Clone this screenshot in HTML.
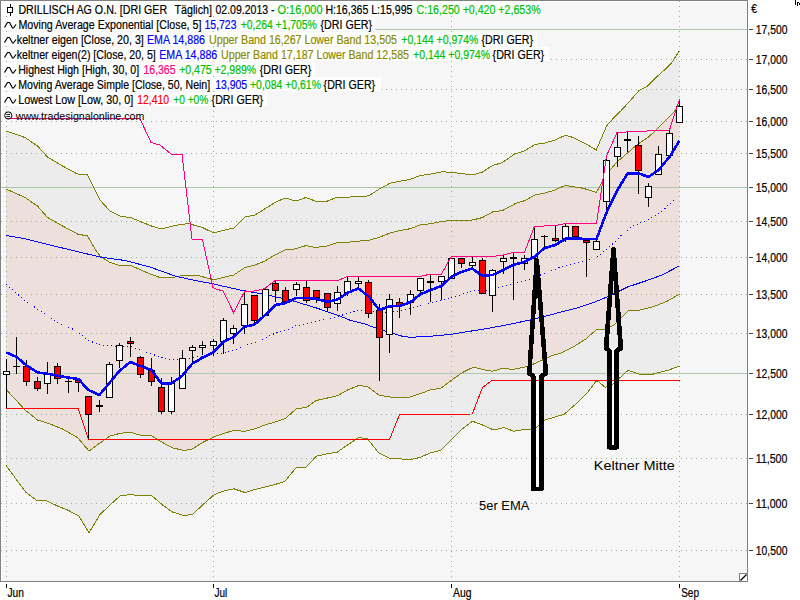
<!DOCTYPE html><html><head><meta charset="utf-8"><style>html,body{margin:0;padding:0;background:#fff;overflow:hidden}svg{display:block}text{font-family:"Liberation Sans",sans-serif;stroke-width:0.2px}</style></head><body>
<svg width="800" height="600" viewBox="0 0 800 600">
<rect x="0" y="0" width="800" height="600" fill="#ffffff"/>
<rect x="1" y="1" width="746" height="580" fill="#f6f6f6"/>
<path d="M1.5 1V581M1 1.5H747" stroke="#ffffff" stroke-width="1" fill="none" shape-rendering="crispEdges"/>
<polygon points="6.00,131.00 25.00,137.50 37.50,146.00 47.50,157.00 62.50,166.00 77.50,174.00 87.50,175.00 100.00,200.00 110.00,211.00 120.00,216.00 132.00,218.00 150.00,225.50 161.00,229.00 175.00,225.50 188.00,223.50 202.50,227.50 213.75,233.00 222.50,230.50 233.75,228.00 245.00,217.00 255.00,215.00 265.00,208.75 275.00,202.50 285.00,198.00 296.00,201.00 306.00,197.50 315.00,201.00 327.50,201.00 337.50,197.00 350.00,197.00 362.50,196.75 369.00,195.75 380.00,188.50 390.00,183.25 400.00,181.25 410.00,179.50 420.00,175.50 430.00,174.25 442.50,171.75 452.50,172.50 462.50,173.75 472.50,175.00 482.50,172.00 492.50,165.50 502.50,162.50 515.00,153.75 523.75,151.25 535.00,144.50 545.00,143.00 555.00,140.00 565.30,135.30 573.30,137.50 583.30,142.50 596.30,150.00 606.70,125.80 613.30,118.30 621.25,110.50 630.00,100.90 638.75,90.90 647.50,86.00 656.25,77.25 665.00,69.50 672.00,62.30 679.50,50.65 679.50,366.10 667.60,370.40 653.50,374.00 639.30,374.00 628.00,370.40 612.40,384.60 605.30,387.40 596.80,380.30 588.30,391.60 577.00,403.00 564.20,414.30 555.00,417.00 545.00,420.00 535.00,428.75 523.75,429.50 513.75,431.25 503.75,427.50 493.75,430.00 482.50,425.00 472.50,421.25 462.50,428.75 456.70,434.20 446.70,444.20 440.80,450.30 430.00,453.00 420.00,457.50 411.70,459.20 405.00,459.20 389.20,458.30 378.30,452.50 367.50,438.75 358.75,437.50 347.50,445.00 337.50,452.00 327.50,453.75 316.25,456.25 306.25,467.00 296.25,467.50 285.00,481.25 275.00,484.50 265.00,487.00 255.00,489.50 245.00,492.50 233.75,488.75 222.50,491.25 213.75,495.00 202.50,505.00 192.50,514.50 184.00,515.50 172.50,512.00 162.50,505.00 151.00,495.00 141.00,496.00 130.00,494.50 120.00,496.00 110.00,505.00 100.00,514.50 89.00,533.00 79.00,516.00 67.50,510.00 57.50,506.00 46.00,500.50 37.50,501.00 26.00,492.50 16.00,479.00 6.00,465.50" fill="#ececec"/>
<polygon points="6.00,189.00 25.00,197.50 37.50,206.00 47.50,217.50 62.50,226.00 77.50,234.00 87.50,236.00 95.00,249.00 100.00,256.00 110.00,262.50 120.00,265.50 132.00,266.00 150.00,274.00 160.00,277.50 170.00,278.00 180.00,276.00 190.00,275.50 200.00,276.00 213.75,280.00 222.50,277.50 233.75,275.00 245.00,267.50 255.00,265.00 265.00,261.00 275.00,255.00 285.00,250.00 296.00,248.75 306.00,245.50 315.00,247.50 327.50,246.00 337.50,242.50 350.00,242.00 370.00,240.00 380.00,237.00 390.00,233.00 400.00,230.50 410.00,228.75 420.00,225.00 430.00,223.75 442.50,221.25 452.50,220.50 462.50,220.50 472.50,220.00 482.50,217.50 492.50,212.00 502.50,210.50 515.00,203.75 525.00,200.50 535.00,195.00 545.00,193.00 555.00,190.00 565.30,185.30 573.30,186.70 583.30,188.30 596.30,192.50 606.70,174.00 617.00,162.00 627.50,153.00 638.00,144.00 648.75,136.90 658.00,128.00 666.75,119.25 673.75,112.25 679.50,105.00 679.50,294.00 667.60,301.00 653.50,306.70 639.30,310.30 628.00,311.00 613.80,325.00 605.30,329.90 596.80,329.30 585.50,339.20 574.20,346.30 560.00,353.40 552.50,355.50 542.50,360.00 532.50,364.50 525.00,367.00 512.50,369.50 502.50,368.25 492.50,371.25 482.50,369.50 473.75,367.00 462.50,372.50 452.50,379.50 441.25,388.00 430.00,390.00 420.00,393.75 410.00,397.00 390.00,397.00 378.75,395.00 367.50,386.50 358.75,385.50 347.50,390.00 337.50,395.75 327.50,398.00 316.25,400.50 306.25,407.50 296.25,408.75 285.00,418.75 275.00,422.00 265.00,425.00 255.00,428.75 245.00,431.25 233.75,430.50 222.50,433.75 213.75,437.00 202.50,442.50 192.50,449.00 184.00,450.50 173.00,448.00 162.50,442.50 151.00,435.50 140.00,435.00 129.00,432.00 117.50,434.00 110.00,436.00 100.00,443.00 89.00,451.00 77.50,437.50 62.50,429.00 50.00,424.00 37.50,420.00 25.00,410.00 16.00,400.00 6.00,389.50" fill="#ecdfdc"/>
<rect x="533.3" y="373.7" width="8.300000000000068" height="115.30000000000001" fill="#ffffff"/>
<rect x="609.35" y="348.4" width="7.2999999999999545" height="98.90000000000003" fill="#ffffff"/>
<path d="M1 59.5H747 M1 89.5H747 M1 121.5H747 M1 153.5H747 M1 221.5H747 M1 257.5H747 M1 294.5H747 M1 333.5H747 M1 414.5H747 M1 458.5H747 M1 503.5H747 M1 550.5H747" stroke="#9ab196" stroke-width="1" stroke-dasharray="1 4" fill="none" shape-rendering="crispEdges"/>
<path d="M6.5 1V581 M213.5 1V581 M451.5 1V581 M679.5 1V581" stroke="#9ab196" stroke-width="1" stroke-dasharray="1 4" fill="none" shape-rendering="crispEdges"/>
<path d="M1 187.5H747 M1 373.5H747 M1 29.5H747" stroke="#aec6ad" stroke-width="1" fill="none" shape-rendering="crispEdges"/>
<polyline points="6.00,131.00 25.00,137.50 37.50,146.00 47.50,157.00 62.50,166.00 77.50,174.00 87.50,175.00 100.00,200.00 110.00,211.00 120.00,216.00 132.00,218.00 150.00,225.50 161.00,229.00 175.00,225.50 188.00,223.50 202.50,227.50 213.75,233.00 222.50,230.50 233.75,228.00 245.00,217.00 255.00,215.00 265.00,208.75 275.00,202.50 285.00,198.00 296.00,201.00 306.00,197.50 315.00,201.00 327.50,201.00 337.50,197.00 350.00,197.00 362.50,196.75 369.00,195.75 380.00,188.50 390.00,183.25 400.00,181.25 410.00,179.50 420.00,175.50 430.00,174.25 442.50,171.75 452.50,172.50 462.50,173.75 472.50,175.00 482.50,172.00 492.50,165.50 502.50,162.50 515.00,153.75 523.75,151.25 535.00,144.50 545.00,143.00 555.00,140.00 565.30,135.30 573.30,137.50 583.30,142.50 596.30,150.00 606.70,125.80 613.30,118.30 621.25,110.50 630.00,100.90 638.75,90.90 647.50,86.00 656.25,77.25 665.00,69.50 672.00,62.30 679.50,50.65" fill="none" stroke="#808000" stroke-width="1" shape-rendering="crispEdges"/>
<polyline points="6.00,189.00 25.00,197.50 37.50,206.00 47.50,217.50 62.50,226.00 77.50,234.00 87.50,236.00 95.00,249.00 100.00,256.00 110.00,262.50 120.00,265.50 132.00,266.00 150.00,274.00 160.00,277.50 170.00,278.00 180.00,276.00 190.00,275.50 200.00,276.00 213.75,280.00 222.50,277.50 233.75,275.00 245.00,267.50 255.00,265.00 265.00,261.00 275.00,255.00 285.00,250.00 296.00,248.75 306.00,245.50 315.00,247.50 327.50,246.00 337.50,242.50 350.00,242.00 370.00,240.00 380.00,237.00 390.00,233.00 400.00,230.50 410.00,228.75 420.00,225.00 430.00,223.75 442.50,221.25 452.50,220.50 462.50,220.50 472.50,220.00 482.50,217.50 492.50,212.00 502.50,210.50 515.00,203.75 525.00,200.50 535.00,195.00 545.00,193.00 555.00,190.00 565.30,185.30 573.30,186.70 583.30,188.30 596.30,192.50 606.70,174.00 617.00,162.00 627.50,153.00 638.00,144.00 648.75,136.90 658.00,128.00 666.75,119.25 673.75,112.25 679.50,105.00" fill="none" stroke="#808000" stroke-width="1" shape-rendering="crispEdges"/>
<polyline points="6.00,389.50 16.00,400.00 25.00,410.00 37.50,420.00 50.00,424.00 62.50,429.00 77.50,437.50 89.00,451.00 100.00,443.00 110.00,436.00 117.50,434.00 129.00,432.00 140.00,435.00 151.00,435.50 162.50,442.50 173.00,448.00 184.00,450.50 192.50,449.00 202.50,442.50 213.75,437.00 222.50,433.75 233.75,430.50 245.00,431.25 255.00,428.75 265.00,425.00 275.00,422.00 285.00,418.75 296.25,408.75 306.25,407.50 316.25,400.50 327.50,398.00 337.50,395.75 347.50,390.00 358.75,385.50 367.50,386.50 378.75,395.00 390.00,397.00 410.00,397.00 420.00,393.75 430.00,390.00 441.25,388.00 452.50,379.50 462.50,372.50 473.75,367.00 482.50,369.50 492.50,371.25 502.50,368.25 512.50,369.50 525.00,367.00 532.50,364.50 542.50,360.00 552.50,355.50 560.00,353.40 574.20,346.30 585.50,339.20 596.80,329.30 605.30,329.90 613.80,325.00 628.00,311.00 639.30,310.30 653.50,306.70 667.60,301.00 679.50,294.00" fill="none" stroke="#808000" stroke-width="1" shape-rendering="crispEdges"/>
<polyline points="6.00,465.50 16.00,479.00 26.00,492.50 37.50,501.00 46.00,500.50 57.50,506.00 67.50,510.00 79.00,516.00 89.00,533.00 100.00,514.50 110.00,505.00 120.00,496.00 130.00,494.50 141.00,496.00 151.00,495.00 162.50,505.00 172.50,512.00 184.00,515.50 192.50,514.50 202.50,505.00 213.75,495.00 222.50,491.25 233.75,488.75 245.00,492.50 255.00,489.50 265.00,487.00 275.00,484.50 285.00,481.25 296.25,467.50 306.25,467.00 316.25,456.25 327.50,453.75 337.50,452.00 347.50,445.00 358.75,437.50 367.50,438.75 378.30,452.50 389.20,458.30 405.00,459.20 411.70,459.20 420.00,457.50 430.00,453.00 440.80,450.30 446.70,444.20 456.70,434.20 462.50,428.75 472.50,421.25 482.50,425.00 493.75,430.00 503.75,427.50 513.75,431.25 523.75,429.50 535.00,428.75 545.00,420.00 555.00,417.00 564.20,414.30 577.00,403.00 588.30,391.60 596.80,380.30 605.30,387.40 612.40,384.60 628.00,370.40 639.30,374.00 653.50,374.00 667.60,370.40 679.50,366.10" fill="none" stroke="#808000" stroke-width="1" shape-rendering="crispEdges"/>
<polyline points="6.00,235.50 25.00,238.75 50.00,245.00 75.00,251.00 100.00,257.00 125.00,260.50 150.00,267.00 175.00,276.00 190.00,279.50 212.50,283.75 240.00,290.00 265.00,294.50 290.00,300.00 315.00,307.50 340.00,316.00 350.00,320.25 365.00,324.00 377.00,328.50 389.00,332.25 402.50,336.30 410.00,337.30 430.00,336.25 450.00,334.50 470.00,331.25 490.00,328.00 510.00,324.25 530.00,320.00 550.00,315.00 560.00,312.30 577.00,308.00 594.00,302.40 611.00,295.30 628.00,286.80 645.00,281.20 662.00,275.00 679.00,266.10" fill="none" stroke="#0000ff" stroke-width="1" shape-rendering="crispEdges"/>
<polyline points="6.00,284.50 16.00,292.50 25.00,301.00 37.50,309.00 50.00,317.50 62.50,325.00 75.00,330.00 87.50,340.00 100.00,345.00 112.00,346.00 132.00,347.00 146.00,352.00 160.00,357.00 170.00,360.00 180.00,359.50 189.40,358.50 197.50,356.90 210.00,355.00 221.25,353.10 230.00,351.25 237.00,349.40 247.50,344.40 255.00,342.50 262.50,339.75 269.40,335.60 277.50,332.40 288.50,329.30 295.50,325.80 303.00,324.40 311.00,322.50 319.40,320.25 327.00,319.00 335.60,316.90 342.50,315.00 350.00,312.50 357.50,310.60 362.00,310.00 373.75,311.25 385.60,312.25 397.00,311.40 405.00,309.75 413.75,307.50 423.75,305.25 432.50,302.75 441.25,300.60 450.00,298.50 458.75,295.60 467.50,292.25 475.00,290.20 486.25,290.30 497.50,288.10 509.40,284.40 517.50,282.50 524.40,281.25 532.50,278.75 543.75,273.50 554.40,269.50 562.50,266.50 569.40,264.50 577.50,262.50 585.50,260.40 593.75,259.30 602.00,253.00 608.90,247.60 617.10,239.30 625.40,231.50 632.30,226.25 639.10,223.50 646.70,220.50 653.60,216.60 660.50,212.50 668.00,205.60 679.00,196.00" fill="none" stroke="#0000ff" stroke-width="1" stroke-dasharray="1 3" shape-rendering="crispEdges"/>
<polyline points="6.00,408.25 78.00,408.25 88.40,439.00 389.70,439.00 399.60,414.50 472.30,414.00 482.50,387.50 492.50,380.00 679.50,380.00" fill="none" stroke="#ff0000" stroke-width="1" shape-rendering="crispEdges"/>
<path d="M6.5 359V408 M16.5 337V374 M26.5 360V386 M37.5 377V391 M47.5 362V394 M57.5 363V384 M68.5 379V393 M78.5 379V392 M88.5 396V439 M99.5 400V412 M109.5 362V397 M119.5 343V368 M130.5 337V357 M140.5 356V378 M151.5 358V386 M161.5 378V414 M171.5 377V414 M182.5 350V388 M192.5 345V362 M202.5 341V355 M213.5 339V356 M223.5 318V354 M233.5 325V344 M244.5 292V334 M254.5 295V323 M265.5 289V316 M275.5 281V302 M285.5 287V302 M296.5 282V296 M306.5 281V303 M316.5 290V303 M327.5 293V312 M337.5 286V311 M347.5 277V296 M358.5 277V288 M368.5 280V318 M379.5 304V381 M389.5 294V353 M399.5 298V318 M410.5 290V315 M420.5 278V293 M430.5 275V302 M441.5 276V300 M451.5 258V278 M461.5 258V268 M472.5 257V268 M482.5 258V294 M492.5 269V312 M503.5 255V274 M513.5 252V300 M524.5 255V270 M534.5 227V262 M544.5 235V247 M555.5 226V242 M565.5 224V242 M575.5 226V238 M586.5 238V277 M596.5 237V249 M606.5 156V209 M617.5 132V167 M627.5 132V152 M638.5 136V194 M648.5 183V207 M658.5 146V174 M669.5 130V155 M679.5 99V122" stroke="#000" stroke-width="1" fill="none" shape-rendering="crispEdges"/>
<g shape-rendering="crispEdges"><rect x="3.5" y="371.5" width="6" height="3" fill="#ffffff" stroke="#000" stroke-width="1"/><rect x="13" y="366" width="7" height="1" fill="#000"/><rect x="23.5" y="366.5" width="6" height="15" fill="#ff0000" stroke="#000" stroke-width="1"/><rect x="34.5" y="381.5" width="6" height="7" fill="#ff0000" stroke="#000" stroke-width="1"/><rect x="44.5" y="374.5" width="6" height="9" fill="#ffffff" stroke="#000" stroke-width="1"/><rect x="54.5" y="366.5" width="6" height="12" fill="#ff0000" stroke="#000" stroke-width="1"/><rect x="65" y="381" width="7" height="1" fill="#000"/><rect x="75.5" y="380.5" width="6" height="2" fill="#ff0000" stroke="#000" stroke-width="1"/><rect x="85.5" y="396.5" width="6" height="18" fill="#ff0000" stroke="#000" stroke-width="1"/><rect x="96" y="405" width="7" height="2" fill="#000"/><rect x="106.5" y="364.5" width="6" height="33" fill="#ffffff" stroke="#000" stroke-width="1"/><rect x="116.5" y="345.5" width="6" height="15" fill="#ffffff" stroke="#000" stroke-width="1"/><rect x="127.5" y="341.5" width="6" height="2" fill="#ff0000" stroke="#000" stroke-width="1"/><rect x="137.5" y="357.5" width="6" height="17" fill="#ff0000" stroke="#000" stroke-width="1"/><rect x="148.5" y="370.5" width="6" height="11" fill="#ff0000" stroke="#000" stroke-width="1"/><rect x="158.5" y="387.5" width="6" height="24" fill="#ff0000" stroke="#000" stroke-width="1"/><rect x="168.5" y="382.5" width="6" height="29" fill="#ffffff" stroke="#000" stroke-width="1"/><rect x="179.5" y="358.5" width="6" height="30" fill="#ffffff" stroke="#000" stroke-width="1"/><rect x="189.5" y="347.5" width="6" height="3" fill="#ffffff" stroke="#000" stroke-width="1"/><rect x="199.5" y="345.5" width="6" height="2" fill="#ffffff" stroke="#000" stroke-width="1"/><rect x="210.5" y="341.5" width="6" height="4" fill="#ffffff" stroke="#000" stroke-width="1"/><rect x="220.5" y="320.5" width="6" height="21" fill="#ffffff" stroke="#000" stroke-width="1"/><rect x="230.5" y="328.5" width="6" height="5" fill="#ffffff" stroke="#000" stroke-width="1"/><rect x="241.5" y="304.5" width="6" height="21" fill="#ffffff" stroke="#000" stroke-width="1"/><rect x="251.5" y="295.5" width="6" height="25" fill="#ff0000" stroke="#000" stroke-width="1"/><rect x="262.5" y="289.5" width="6" height="26" fill="#ffffff" stroke="#000" stroke-width="1"/><rect x="272.5" y="283.5" width="6" height="7" fill="#ff0000" stroke="#000" stroke-width="1"/><rect x="282.5" y="290.5" width="6" height="11" fill="#ff0000" stroke="#000" stroke-width="1"/><rect x="293.5" y="284.5" width="6" height="5" fill="#ffffff" stroke="#000" stroke-width="1"/><rect x="303.5" y="287.5" width="6" height="13" fill="#ff0000" stroke="#000" stroke-width="1"/><rect x="313.5" y="290.5" width="6" height="7" fill="#ff0000" stroke="#000" stroke-width="1"/><rect x="324.5" y="293.5" width="6" height="14" fill="#ff0000" stroke="#000" stroke-width="1"/><rect x="334.5" y="292.5" width="6" height="11" fill="#ffffff" stroke="#000" stroke-width="1"/><rect x="344.5" y="281.5" width="6" height="11" fill="#ffffff" stroke="#000" stroke-width="1"/><rect x="355.5" y="281.5" width="6" height="2" fill="#ffffff" stroke="#000" stroke-width="1"/><rect x="365.5" y="282.5" width="6" height="31" fill="#ff0000" stroke="#000" stroke-width="1"/><rect x="376.5" y="310.5" width="6" height="27" fill="#ff0000" stroke="#000" stroke-width="1"/><rect x="386.5" y="299.5" width="6" height="35" fill="#ffffff" stroke="#000" stroke-width="1"/><rect x="396.5" y="302.5" width="6" height="3" fill="#ff0000" stroke="#000" stroke-width="1"/><rect x="407.5" y="294.5" width="6" height="8" fill="#ffffff" stroke="#000" stroke-width="1"/><rect x="417.5" y="278.5" width="6" height="12" fill="#ffffff" stroke="#000" stroke-width="1"/><rect x="427" y="281" width="7" height="2" fill="#000"/><rect x="438.5" y="276.5" width="6" height="5" fill="#ffffff" stroke="#000" stroke-width="1"/><rect x="448.5" y="258.5" width="6" height="20" fill="#ffffff" stroke="#000" stroke-width="1"/><rect x="458.5" y="258.5" width="6" height="5" fill="#ff0000" stroke="#000" stroke-width="1"/><rect x="469.5" y="262.5" width="6" height="3" fill="#ffffff" stroke="#000" stroke-width="1"/><rect x="479.5" y="260.5" width="6" height="33" fill="#ff0000" stroke="#000" stroke-width="1"/><rect x="489.5" y="270.5" width="6" height="25" fill="#ffffff" stroke="#000" stroke-width="1"/><rect x="500.5" y="258.5" width="6" height="3" fill="#ffffff" stroke="#000" stroke-width="1"/><rect x="510" y="257" width="7" height="2" fill="#000"/><rect x="521.5" y="258.5" width="6" height="5" fill="#ffffff" stroke="#000" stroke-width="1"/><rect x="531.5" y="239.5" width="6" height="19" fill="#ffffff" stroke="#000" stroke-width="1"/><rect x="541" y="236" width="7" height="1" fill="#000"/><rect x="552.5" y="238.5" width="6" height="2" fill="#ff0000" stroke="#000" stroke-width="1"/><rect x="562.5" y="226.5" width="6" height="13" fill="#ffffff" stroke="#000" stroke-width="1"/><rect x="572.5" y="226.5" width="6" height="10" fill="#ff0000" stroke="#000" stroke-width="1"/><rect x="583.5" y="240.5" width="6" height="2" fill="#ff0000" stroke="#000" stroke-width="1"/><rect x="593.5" y="241.5" width="6" height="8" fill="#ffffff" stroke="#000" stroke-width="1"/><rect x="603.5" y="160.5" width="6" height="41" fill="#ffffff" stroke="#000" stroke-width="1"/><rect x="614.5" y="147.5" width="6" height="9" fill="#ffffff" stroke="#000" stroke-width="1"/><rect x="624" y="139" width="7" height="2" fill="#000"/><rect x="635.5" y="145.5" width="6" height="25" fill="#ff0000" stroke="#000" stroke-width="1"/><rect x="645.5" y="186.5" width="6" height="11" fill="#ffffff" stroke="#000" stroke-width="1"/><rect x="655.5" y="154.5" width="6" height="20" fill="#ffffff" stroke="#000" stroke-width="1"/><rect x="666.5" y="133.5" width="6" height="22" fill="#ffffff" stroke="#000" stroke-width="1"/><rect x="676.5" y="106.5" width="6" height="16" fill="#ffffff" stroke="#000" stroke-width="1"/></g>
<polyline points="6.00,118.75 140.00,118.75 151.00,142.50 160.00,145.00 171.00,154.00 182.00,154.00 192.00,239.00 202.50,240.00 213.00,287.50 216.00,289.00 223.00,291.00 233.50,312.50 244.40,291.90 254.40,291.00 264.40,288.75 275.00,280.60 338.00,280.60 347.50,276.25 421.00,276.25 431.00,274.00 441.50,274.00 451.25,256.50 492.50,256.50 503.00,255.00 513.50,252.50 524.40,252.50 534.40,226.50 544.40,226.00 555.00,225.60 565.60,223.50 596.50,223.50 606.50,156.00 617.00,132.50 627.50,131.90 669.50,130.00 679.50,99.40" fill="none" stroke="#ff0080" stroke-width="1" shape-rendering="crispEdges"/>
<polyline points="6.30,352.50 16.30,356.70 26.30,365.30 37.50,372.50 47.50,373.70 57.50,375.80 68.30,377.60 78.30,379.00 88.40,390.00 99.40,395.00 109.40,383.00 119.40,371.00 130.40,362.00 140.40,366.00 151.40,370.00 161.40,383.60 171.40,383.60 182.40,375.60 192.30,363.70 202.50,357.80 213.30,352.40 223.50,341.60 233.50,337.20 244.30,326.80 254.50,324.50 265.30,314.90 275.50,305.00 285.50,303.00 296.00,298.20 306.00,298.00 316.00,298.80 327.50,301.80 337.50,299.50 347.50,292.75 358.50,288.50 368.50,296.25 379.40,310.00 389.60,306.25 399.60,306.00 410.25,302.25 420.25,294.40 430.60,290.00 441.50,286.00 451.25,276.90 461.50,271.90 472.25,268.50 482.50,276.00 492.50,275.00 503.50,269.75 513.50,265.00 524.40,261.90 534.40,256.90 544.40,248.10 555.25,245.00 565.60,238.75 575.60,238.50 586.25,239.00 596.50,239.00 607.50,210.00 617.50,190.00 627.50,173.50 638.00,173.20 648.50,176.90 658.50,170.00 670.00,156.25 679.40,140.60" fill="none" stroke="#0000ff" stroke-width="2.6" stroke-linejoin="round" shape-rendering="crispEdges"/>
<path d="M536.8 260.3 L545.7 370.3 L545.7 373.7 L541.6 375.9 L541.6 489 L533.3 489 L533.3 375.9 L529.5 373.7 L529.5 370.3 Z" fill="none" stroke="#000" stroke-width="4.6" stroke-linejoin="round" shape-rendering="crispEdges"/>
<path d="M613.5 249.3 L620.55 344.4 L620.55 348.4 L616.65 350.59999999999997 L616.65 447.3 L609.35 447.3 L609.35 350.59999999999997 L606.35 348.4 L606.35 344.4 Z" fill="none" stroke="#000" stroke-width="4.7" stroke-linejoin="round" shape-rendering="crispEdges"/>
<text x="479" y="509.5" font-size="12" fill="#000" textLength="50.3" lengthAdjust="spacingAndGlyphs">5er EMA</text>
<text x="593.8" y="469.5" font-size="12" fill="#000" textLength="81" lengthAdjust="spacingAndGlyphs">Keltner Mitte</text>
<path d="M0.5 0V582M0 0.5H748M747.5 0V582M0 581.5H748" stroke="#808080" stroke-width="1" fill="none" shape-rendering="crispEdges"/>
<rect x="739.5" y="573.5" width="8" height="8" fill="#fff" stroke="#808080" stroke-width="1" shape-rendering="crispEdges"/>
<path d="M740.5 580.5L746.5 574.5" stroke="#000" stroke-width="1.2"/>
<path d="M749 29.5H753" stroke="#404040" stroke-width="1" shape-rendering="crispEdges"/>
<text x="755.8" y="33.6" font-size="12" fill="#000" stroke="#000" textLength="31.6" lengthAdjust="spacingAndGlyphs">17,500</text>
<path d="M749 59.5H753" stroke="#404040" stroke-width="1" shape-rendering="crispEdges"/>
<text x="755.8" y="63.6" font-size="12" fill="#000" stroke="#000" textLength="31.6" lengthAdjust="spacingAndGlyphs">17,000</text>
<path d="M749 89.5H753" stroke="#404040" stroke-width="1" shape-rendering="crispEdges"/>
<text x="755.8" y="93.6" font-size="12" fill="#000" stroke="#000" textLength="31.6" lengthAdjust="spacingAndGlyphs">16,500</text>
<path d="M749 121.5H753" stroke="#404040" stroke-width="1" shape-rendering="crispEdges"/>
<text x="755.8" y="125.6" font-size="12" fill="#000" stroke="#000" textLength="31.6" lengthAdjust="spacingAndGlyphs">16,000</text>
<path d="M749 153.5H753" stroke="#404040" stroke-width="1" shape-rendering="crispEdges"/>
<text x="755.8" y="157.6" font-size="12" fill="#000" stroke="#000" textLength="31.6" lengthAdjust="spacingAndGlyphs">15,500</text>
<path d="M749 187.5H753" stroke="#404040" stroke-width="1" shape-rendering="crispEdges"/>
<text x="755.8" y="191.6" font-size="12" fill="#000" stroke="#000" textLength="31.6" lengthAdjust="spacingAndGlyphs">15,000</text>
<path d="M749 221.5H753" stroke="#404040" stroke-width="1" shape-rendering="crispEdges"/>
<text x="755.8" y="225.6" font-size="12" fill="#000" stroke="#000" textLength="31.6" lengthAdjust="spacingAndGlyphs">14,500</text>
<path d="M749 257.5H753" stroke="#404040" stroke-width="1" shape-rendering="crispEdges"/>
<text x="755.8" y="261.6" font-size="12" fill="#000" stroke="#000" textLength="31.6" lengthAdjust="spacingAndGlyphs">14,000</text>
<path d="M749 294.5H753" stroke="#404040" stroke-width="1" shape-rendering="crispEdges"/>
<text x="755.8" y="298.6" font-size="12" fill="#000" stroke="#000" textLength="31.6" lengthAdjust="spacingAndGlyphs">13,500</text>
<path d="M749 333.5H753" stroke="#404040" stroke-width="1" shape-rendering="crispEdges"/>
<text x="755.8" y="337.6" font-size="12" fill="#000" stroke="#000" textLength="31.6" lengthAdjust="spacingAndGlyphs">13,000</text>
<path d="M749 373.5H753" stroke="#404040" stroke-width="1" shape-rendering="crispEdges"/>
<text x="755.8" y="377.6" font-size="12" fill="#000" stroke="#000" textLength="31.6" lengthAdjust="spacingAndGlyphs">12,500</text>
<path d="M749 414.5H753" stroke="#404040" stroke-width="1" shape-rendering="crispEdges"/>
<text x="755.8" y="418.6" font-size="12" fill="#000" stroke="#000" textLength="31.6" lengthAdjust="spacingAndGlyphs">12,000</text>
<path d="M749 458.5H753" stroke="#404040" stroke-width="1" shape-rendering="crispEdges"/>
<text x="755.8" y="462.6" font-size="12" fill="#000" stroke="#000" textLength="31.6" lengthAdjust="spacingAndGlyphs">11,500</text>
<path d="M749 503.5H753" stroke="#404040" stroke-width="1" shape-rendering="crispEdges"/>
<text x="755.8" y="507.6" font-size="12" fill="#000" stroke="#000" textLength="31.6" lengthAdjust="spacingAndGlyphs">11,000</text>
<path d="M749 550.5H753" stroke="#404040" stroke-width="1" shape-rendering="crispEdges"/>
<text x="755.8" y="554.6" font-size="12" fill="#000" stroke="#000" textLength="31.6" lengthAdjust="spacingAndGlyphs">10,500</text>
<text x="751.2" y="12.8" font-size="12" fill="#000" stroke="#000" textLength="5.8" lengthAdjust="spacingAndGlyphs">€</text>
<path d="M6.5 584V588" stroke="#000" stroke-width="1" shape-rendering="crispEdges"/>
<text x="7.5" y="597" font-size="12" fill="#000" stroke="#000" textLength="16.5" lengthAdjust="spacingAndGlyphs">Jun</text>
<path d="M213.5 584V588" stroke="#000" stroke-width="1" shape-rendering="crispEdges"/>
<text x="214.5" y="597" font-size="12" fill="#000" stroke="#000" textLength="12.8" lengthAdjust="spacingAndGlyphs">Jul</text>
<path d="M451.5 584V588" stroke="#000" stroke-width="1" shape-rendering="crispEdges"/>
<text x="453" y="597" font-size="12" fill="#000" stroke="#000" textLength="18.5" lengthAdjust="spacingAndGlyphs">Aug</text>
<path d="M679.5 584V588" stroke="#000" stroke-width="1" shape-rendering="crispEdges"/>
<text x="681.2" y="597" font-size="12" fill="#000" stroke="#000" textLength="17.8" lengthAdjust="spacingAndGlyphs">Sep</text>
<rect x="1" y="1" width="542" height="15" fill="#ffffff" fill-opacity="0.92"/>
<rect x="1" y="17" width="374.5" height="14" fill="#ffffff" fill-opacity="0.92"/>
<rect x="1" y="32" width="536" height="14" fill="#ffffff" fill-opacity="0.92"/>
<rect x="1" y="47" width="548" height="14" fill="#ffffff" fill-opacity="0.92"/>
<rect x="1" y="62" width="314" height="14" fill="#ffffff" fill-opacity="0.92"/>
<rect x="1" y="77" width="380" height="14" fill="#ffffff" fill-opacity="0.92"/>
<rect x="1" y="92" width="266" height="14" fill="#ffffff" fill-opacity="0.92"/>
<text x="18.4" y="14" font-size="12" fill="#000000" stroke="#000000" textLength="148.8" lengthAdjust="spacingAndGlyphs" xml:space="preserve">DRILLISCH AG O.N. [DRI GER</text>
<text x="174.5" y="14" font-size="12" fill="#000000" stroke="#000000" textLength="37.5" lengthAdjust="spacingAndGlyphs" xml:space="preserve">Täglich]</text>
<text x="215.5" y="14" font-size="12" fill="#000000" stroke="#000000" textLength="59" lengthAdjust="spacingAndGlyphs" xml:space="preserve">02.09.2013 -</text>
<text x="277.5" y="14" font-size="12" fill="#00c000" stroke="#00c000" textLength="45" lengthAdjust="spacingAndGlyphs" xml:space="preserve">O:16,000</text>
<text x="325.4" y="14" font-size="12" fill="#000000" stroke="#000000" textLength="87" lengthAdjust="spacingAndGlyphs" xml:space="preserve">H:16,365 L:15,995</text>
<text x="416.6" y="14" font-size="12" fill="#00c000" stroke="#00c000" textLength="124" lengthAdjust="spacingAndGlyphs" xml:space="preserve">C:16,250 +0,420 +2,653%</text>
<path d="M10.5 4V7M10.5 13V16" stroke="#000" stroke-width="1" shape-rendering="crispEdges"/><rect x="7.5" y="7.5" width="5" height="5" fill="#fff" stroke="#000" stroke-width="1" shape-rendering="crispEdges"/>
<text x="18.4" y="29" font-size="12" fill="#000000" stroke="#000000" textLength="183" lengthAdjust="spacingAndGlyphs" xml:space="preserve">Moving Average Exponential [Close, 5]</text>
<text x="204.5" y="29" font-size="12" fill="#0000ff" stroke="#0000ff" textLength="32" lengthAdjust="spacingAndGlyphs" xml:space="preserve">15,723</text>
<text x="240.75" y="29" font-size="12" fill="#00c000" stroke="#00c000" textLength="76" lengthAdjust="spacingAndGlyphs" xml:space="preserve">+0,264 +1,705%</text>
<text x="320.5" y="29" font-size="12" fill="#000000" stroke="#000000" textLength="51.6" lengthAdjust="spacingAndGlyphs" xml:space="preserve">{DRI GER}</text>
<path d="M4.5 27.5 L7.5 22.5 L9.5 22.5 L12.5 28 L13.5 28 L16 24.5" stroke="#000" stroke-width="1.2" fill="none"/>
<text x="16.8" y="44" font-size="12" fill="#000000" stroke="#000000" textLength="127" lengthAdjust="spacingAndGlyphs" xml:space="preserve">keltner eigen [Close, 20, 3]</text>
<text x="147" y="44" font-size="12" fill="#0000ff" stroke="#0000ff" textLength="58" lengthAdjust="spacingAndGlyphs" xml:space="preserve">EMA 14,886</text>
<text x="209" y="44" font-size="12" fill="#8b8b00" stroke="#8b8b00" textLength="188" lengthAdjust="spacingAndGlyphs" xml:space="preserve">Upper Band 16,267 Lower Band 13,505</text>
<text x="401.3" y="44" font-size="12" fill="#00c000" stroke="#00c000" textLength="77" lengthAdjust="spacingAndGlyphs" xml:space="preserve">+0,144 +0,974%</text>
<text x="481.5" y="44" font-size="12" fill="#000000" stroke="#000000" textLength="51.6" lengthAdjust="spacingAndGlyphs" xml:space="preserve">{DRI GER}</text>
<path d="M4.5 42.5 L7.5 37.5 L9.5 37.5 L12.5 43 L13.5 43 L16 39.5" stroke="#000" stroke-width="1.2" fill="none"/>
<text x="16.8" y="59" font-size="12" fill="#000000" stroke="#000000" textLength="139" lengthAdjust="spacingAndGlyphs" xml:space="preserve">keltner eigen(2) [Close, 20, 5]</text>
<text x="159.25" y="59" font-size="12" fill="#0000ff" stroke="#0000ff" textLength="58" lengthAdjust="spacingAndGlyphs" xml:space="preserve">EMA 14,886</text>
<text x="221" y="59" font-size="12" fill="#8b8b00" stroke="#8b8b00" textLength="188" lengthAdjust="spacingAndGlyphs" xml:space="preserve">Upper Band 17,187 Lower Band 12,585</text>
<text x="413" y="59" font-size="12" fill="#00c000" stroke="#00c000" textLength="77" lengthAdjust="spacingAndGlyphs" xml:space="preserve">+0,144 +0,974%</text>
<text x="492.6" y="59" font-size="12" fill="#000000" stroke="#000000" textLength="51.6" lengthAdjust="spacingAndGlyphs" xml:space="preserve">{DRI GER}</text>
<path d="M4.5 57.5 L7.5 52.5 L9.5 52.5 L12.5 58 L13.5 58 L16 54.5" stroke="#000" stroke-width="1.2" fill="none"/>
<text x="18.2" y="74" font-size="12" fill="#000000" stroke="#000000" textLength="121" lengthAdjust="spacingAndGlyphs" xml:space="preserve">Highest High [High, 30, 0]</text>
<text x="143.5" y="74" font-size="12" fill="#ff0080" stroke="#ff0080" textLength="32" lengthAdjust="spacingAndGlyphs" xml:space="preserve">16,365</text>
<text x="179.2" y="74" font-size="12" fill="#00c000" stroke="#00c000" textLength="77" lengthAdjust="spacingAndGlyphs" xml:space="preserve">+0,475 +2,989%</text>
<text x="259.75" y="74" font-size="12" fill="#000000" stroke="#000000" textLength="51.6" lengthAdjust="spacingAndGlyphs" xml:space="preserve">{DRI GER}</text>
<path d="M4.5 72.5 L7.5 67.5 L9.5 67.5 L12.5 73 L13.5 73 L16 69.5" stroke="#000" stroke-width="1.2" fill="none"/>
<text x="18.2" y="89" font-size="12" fill="#000000" stroke="#000000" textLength="192" lengthAdjust="spacingAndGlyphs" xml:space="preserve">Moving Average Simple [Close, 50, Nein]</text>
<text x="215.2" y="89" font-size="12" fill="#0000ff" stroke="#0000ff" textLength="32" lengthAdjust="spacingAndGlyphs" xml:space="preserve">13,905</text>
<text x="250" y="89" font-size="12" fill="#00c000" stroke="#00c000" textLength="71" lengthAdjust="spacingAndGlyphs" xml:space="preserve">+0,084 +0,61%</text>
<text x="323.6" y="89" font-size="12" fill="#000000" stroke="#000000" textLength="51.6" lengthAdjust="spacingAndGlyphs" xml:space="preserve">{DRI GER}</text>
<path d="M4.5 87.5 L7.5 82.5 L9.5 82.5 L12.5 88 L13.5 88 L16 84.5" stroke="#000" stroke-width="1.2" fill="none"/>
<text x="18.2" y="104" font-size="12" fill="#000000" stroke="#000000" textLength="115" lengthAdjust="spacingAndGlyphs" xml:space="preserve">Lowest Low [Low, 30, 0]</text>
<text x="137.2" y="104" font-size="12" fill="#ff0000" stroke="#ff0000" textLength="32" lengthAdjust="spacingAndGlyphs" xml:space="preserve">12,410</text>
<text x="173.25" y="104" font-size="12" fill="#00c000" stroke="#00c000" textLength="35" lengthAdjust="spacingAndGlyphs" xml:space="preserve">+0 +0%</text>
<text x="211.6" y="104" font-size="12" fill="#000000" stroke="#000000" textLength="51.6" lengthAdjust="spacingAndGlyphs" xml:space="preserve">{DRI GER}</text>
<path d="M4.5 102.5 L7.5 97.5 L9.5 97.5 L12.5 103 L13.5 103 L16 99.5" stroke="#000" stroke-width="1.2" fill="none"/>
<text x="15.75" y="119.5" font-size="11.5" fill="#000" textLength="128.5" lengthAdjust="spacingAndGlyphs">www.tradesignalonline.com</text>
<circle cx="8.3" cy="115.5" r="3.6" fill="none" stroke="#000" stroke-width="1"/><path d="M6.5 114.5H10M6.5 116.5H10" stroke="#000" stroke-width="0.9"/>
<g fill="#000" shape-rendering="crispEdges"><rect x="795" y="0" width="1" height="5"/><rect x="797" y="2" width="1" height="4"/><rect x="798" y="2" width="1" height="1"/><rect x="799" y="3" width="1" height="2"/></g>
</svg></body></html>
